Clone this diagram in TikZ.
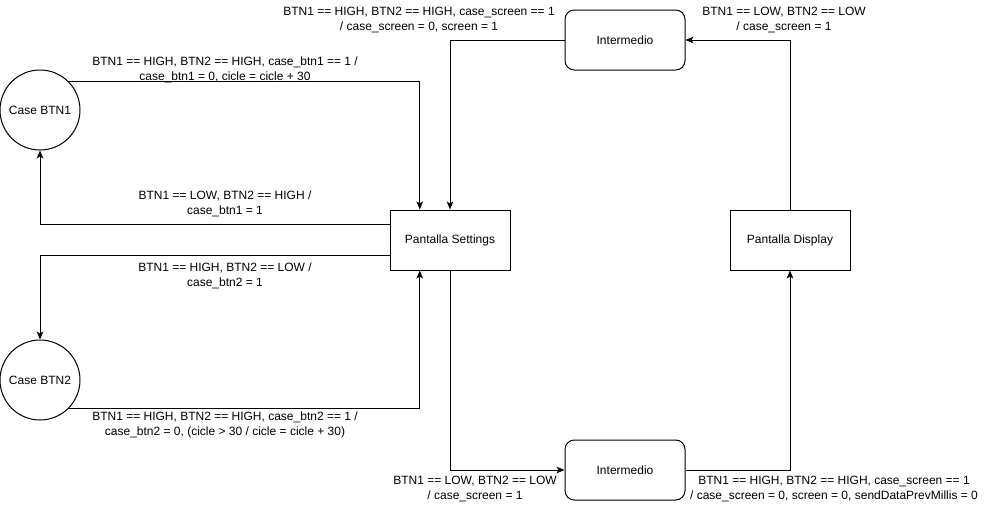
\documentclass[tikz,border=0pt]{standalone}
\usepackage{fontspec}
\setmainfont{Liberation Sans}
\usetikzlibrary{arrows.meta,calc}
\begin{document}
\begin{tikzpicture}[x=0.75pt,y=-0.75pt,
  every node/.style={font=\fontsize{9}{10.8}\selectfont},
  statebox/.style={draw,line width=0.75pt,minimum width=90pt,minimum height=45pt,inner sep=0pt},
  midbox/.style={statebox,rounded corners=7pt},
  casecircle/.style={draw,circle,line width=0.75pt,minimum size=60pt,inner sep=0pt},
  lbl/.style={align=center,inner sep=1pt},
  flow/.style={line width=0.75pt,-{Stealth[length=6pt,width=5pt,inset=1.5pt]}}]
\useasboundingbox (0,0) rectangle (985,511);

% states
\node[statebox] (settings) at (450,240) {Pantalla Settings};
\node[statebox] (display) at (790,240) {Pantalla Display};
\node[midbox] (midtop) at (625,40) {Intermedio};
\node[midbox] (midbot) at (625,470) {Intermedio};
\node[casecircle] (btn1) at (40,110) {Case BTN1};
\node[casecircle] (btn2) at (40,380) {Case BTN2};

% attachment points on the settings box
\coordinate (sNin) at ($(settings.north west)!0.25!(settings.north east)$);
\coordinate (sSin) at ($(settings.south west)!0.25!(settings.south east)$);
\coordinate (sWup) at ($(settings.north west)!0.25!(settings.south west)$);
\coordinate (sWdn) at ($(settings.north west)!0.75!(settings.south west)$);

% transitions
\draw[flow] (btn1.north east) -| (sNin);
\draw[flow] (sWup) -| (btn1.south);
\draw[flow] (sWdn) -| (btn2.north);
\draw[flow] (btn2.south east) -| (sSin);
\draw[flow] (settings.south) |- (midbot.west);
\draw[flow] (midbot.east) -| (display.south);
\draw[flow] (display.north) |- (midtop.east);
\draw[flow] (midtop.west) -| (settings.north);

% transition labels
\node[lbl] (l1) at (225,70) {BTN1 == HIGH, BTN2 == HIGH, case\_btn1 == 1 /\\case\_btn1 = 0, cicle = cicle + 30};
\node[lbl] (l2) at (225,204) {BTN1 == LOW, BTN2 == HIGH /\\case\_btn1 = 1};
\node[lbl] (l3) at (225,276) {BTN1 == HIGH, BTN2 == LOW /\\case\_btn2 = 1};
\node[lbl] (l4) at (225,425) {BTN1 == HIGH, BTN2 == HIGH, case\_btn2 == 1 /\\case\_btn2 = 0, (cicle > 30 / cicle = cicle + 30)};
\node[lbl] (l5) at (419,20) {BTN1 == HIGH, BTN2 == HIGH, case\_screen == 1\\/ case\_screen = 0, screen = 1};
\node[lbl] (l6) at (784,20) {BTN1 == LOW, BTN2 == LOW\\/ case\_screen = 1};
\node[lbl] (l7) at (475,489) {BTN1 == LOW, BTN2 == LOW\\/ case\_screen = 1};
\node[lbl] (l8) at (834,489) {BTN1 == HIGH, BTN2 == HIGH, case\_screen == 1\\/ case\_screen = 0, screen = 0, sendDataPrevMillis = 0};
\end{tikzpicture}
\end{document}
